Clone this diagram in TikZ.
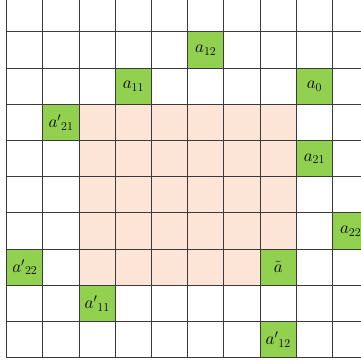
\documentclass[tikz,border=0pt]{standalone}
\usepackage{amsmath}
\definecolor{cellgreen}{HTML}{92D050}
\definecolor{cellorange}{HTML}{FCE4D6}
\definecolor{gridcol}{HTML}{3A3A3A}
\tikzset{
  gridline/.style={draw=gridcol, line width=0.9pt},
  greencell/.style={rectangle, fill=cellgreen, draw=gridcol, line width=0.9pt,
    minimum width=36.2pt, minimum height=36.2pt, inner sep=0pt,
    font=\fontsize{17}{20}\selectfont},
}
\begin{document}
\begin{tikzpicture}[x=36.2pt,y=36.2pt]
\useasboundingbox (-0.185,-0.174) rectangle (9.787,9.881);
\clip (-0.185,-0.174) rectangle (9.787,9.881);
\fill[cellorange] (2,2) rectangle (8,7);
\draw[gridline] (0,0) grid[step=1] (10,10);
% cells: (col+0.5, 9.5-row)
\node[greencell] (a12)  at (5.5,8.5) {$a_{12}$};
\node[greencell] (a11)  at (3.5,7.5) {$a_{11}$};
\node[greencell] (a0)   at (8.5,7.5) {$a_{0}$};
\node[greencell] (ap21) at (1.5,6.5) {${a'}_{21}$};
\node[greencell] (a21)  at (8.5,5.5) {$a_{21}$};
\node[greencell] (a22)  at (9.5,3.5) {$a_{22}$};
\node[greencell] (ap22) at (0.5,2.5) {${a'}_{22}$};
\node[greencell] (at)   at (7.5,2.5) {$\tilde{a}$};
\node[greencell] (ap11) at (2.5,1.5) {${a'}_{11}$};
\node[greencell] (ap12) at (7.5,0.5) {${a'}_{12}$};
\end{tikzpicture}
\end{document}
